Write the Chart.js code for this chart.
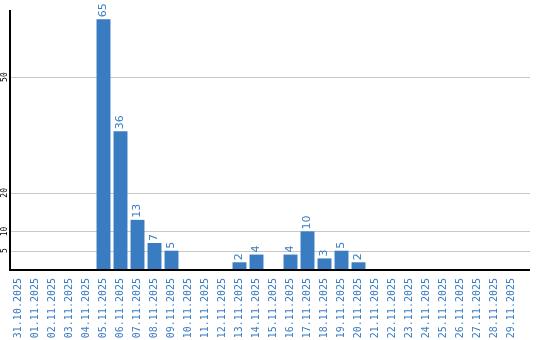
<!DOCTYPE html>
<html>
<head>
<meta charset="utf-8">
<script src="https://cdn.jsdelivr.net/npm/chart.js@4.4.1/dist/chart.umd.min.js"></script>
<style>
  html, body { margin: 0; padding: 0; background: #fff; }
  #wrap { width: 540px; height: 340px; }
</style>
</head>
<body>
<div id="wrap"><canvas id="chart"></canvas></div>
<script>
const days = [
    "31.10.2025", "01.11.2025", "02.11.2025", "03.11.2025", "04.11.2025",
    "05.11.2025", "06.11.2025", "07.11.2025", "08.11.2025", "09.11.2025",
    "10.11.2025", "11.11.2025", "12.11.2025", "13.11.2025", "14.11.2025",
    "15.11.2025", "16.11.2025", "17.11.2025", "18.11.2025", "19.11.2025",
    "20.11.2025", "21.11.2025", "22.11.2025", "23.11.2025", "24.11.2025",
    "25.11.2025", "26.11.2025", "27.11.2025", "28.11.2025", "29.11.2025"
];
const counts = [
    0, 0, 0, 0, 0,
    65, 36, 13, 7, 5,
    0, 0, 0, 2, 4,
    0, 4, 10, 3, 5,
    2, 0, 0, 0, 0,
    0, 0, 0, 0, 0
];
const yTicks = [5, 10, 20, 50];

const blue = '#3a7cc1';
const extraRight = 10; // grid and axis run a bit past the last bar

// grid lines + axes drawn under the bars
const gridPlugin = {
    id: 'grid',
    beforeDatasetsDraw(chart) {
        const ctx = chart.ctx;
        const a = chart.chartArea;
        const y = chart.scales.y;
        ctx.save();
        ctx.strokeStyle = '#c8c8c8';
        ctx.lineWidth = 1;
        yTicks.forEach(v => {
            const py = Math.round(y.getPixelForValue(v)) + 0.5;
            ctx.beginPath();
            ctx.moveTo(a.left, py);
            ctx.lineTo(a.right + extraRight, py);
            ctx.stroke();
        });
        ctx.restore();
    },
    afterDatasetsDraw(chart) {
        const ctx = chart.ctx;
        const a = chart.chartArea;
        ctx.save();
        ctx.strokeStyle = '#000';
        ctx.lineWidth = 2;
        ctx.beginPath();
        ctx.moveTo(a.left, a.top);
        ctx.lineTo(a.left, a.bottom);
        ctx.lineTo(a.right + extraRight, a.bottom);
        ctx.stroke();
        ctx.restore();
    }
};

// rotated value labels above bars + rotated y tick labels
const labelsPlugin = {
    id: 'labels',
    afterDatasetsDraw(chart) {
        const ctx = chart.ctx;
        const meta = chart.getDatasetMeta(0);
        ctx.save();
        ctx.fillStyle = blue;
        ctx.font = '11px "DejaVu Sans"';
        ctx.textAlign = 'left';
        ctx.textBaseline = 'middle';
        meta.data.forEach((bar, i) => {
            if (!counts[i]) return;
            ctx.save();
            ctx.translate(bar.x, bar.y - 2);
            ctx.rotate(-Math.PI / 2);
            ctx.fillText(String(counts[i]), 0, 0);
            ctx.restore();
        });
        const y = chart.scales.y;
        ctx.fillStyle = '#000';
        ctx.font = '8px "DejaVu Sans Mono"';
        ctx.textAlign = 'center';
        yTicks.forEach(v => {
            ctx.save();
            ctx.translate(5, y.getPixelForValue(v));
            ctx.rotate(-Math.PI / 2);
            ctx.fillText(String(v), 0, 0);
            ctx.restore();
        });
        ctx.restore();
    }
};

new Chart(document.getElementById('chart'), {
    type: 'bar',
    data: {
        labels: days,
        datasets: [{
            data: counts,
            backgroundColor: blue,
            barPercentage: 0.82,
            categoryPercentage: 1
        }]
    },
    options: {
        responsive: true,
        maintainAspectRatio: false,
        animation: false,
        layout: { padding: { top: 10, right: 20, left: 0, bottom: 0 } },
        plugins: {
            legend: { display: false },
            tooltip: { enabled: false }
        },
        scales: {
            x: {
                grid: { display: false },
                border: { display: false },
                afterFit(scale) {
                    scale.height = 70;
                },
                ticks: {
                    autoSkip: false,
                    minRotation: 90,
                    maxRotation: 90,
                    padding: 0,
                    color: blue,
                    font: { family: 'DejaVu Sans Mono', size: 10 }
                }
            },
            y: {
                min: 0,
                max: 67.4,
                afterBuildTicks(scale) {
                    scale.ticks = yTicks.map(v => ({ value: v }));
                },
                afterFit(scale) {
                    scale.width = 10;
                },
                grid: { display: false },
                border: { display: false },
                ticks: { display: false }
            }
        }
    },
    plugins: [gridPlugin, labelsPlugin]
});
</script>
</body>
</html>
